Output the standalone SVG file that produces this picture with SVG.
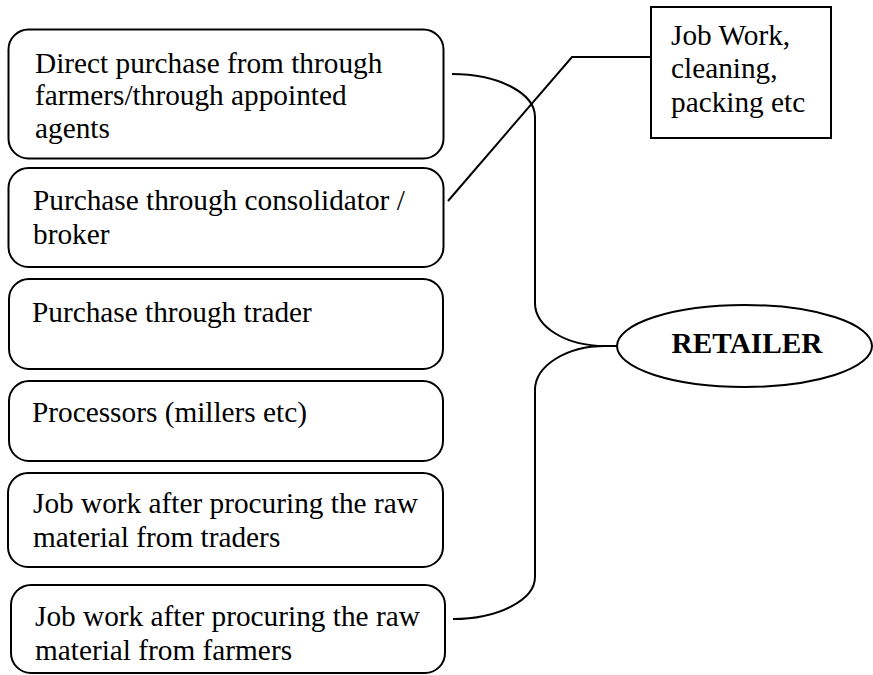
<svg xmlns="http://www.w3.org/2000/svg" width="873" height="675" viewBox="0 0 873 675">
<style>
.box{fill:#fff;stroke:#000;stroke-width:2}
.t{font-family:"Liberation Serif","Times New Roman",serif;font-size:29.3px;fill:#000}
.b{font-weight:bold}
.c{fill:none;stroke:#000;stroke-width:2}
</style>
<rect width="873" height="675" fill="#fff"/>
<g id="connectors">
<path class="c" d="M452,74 C498,74 535,93 535,117 L535,303 C535,327 566,346 605,346 L617,346"/>
<path class="c" d="M617,346 L605,346 C566,346 535,366 535,390 L535,577 C535,600 498,619 453,619"/>
<path class="c" d="M651,57 L572,57 L448,201"/>
</g>
<g id="n1"><rect class="box" x="8.5" y="29.5" width="435" height="129" rx="20"/>
<text class="t" x="35" y="72.5">Direct purchase from through</text>
<text class="t" x="35" y="105">farmers/through appointed</text>
<text class="t" x="35" y="137.5">agents</text></g>
<g id="n2"><rect class="box" x="8.5" y="168" width="435" height="99" rx="20"/>
<text class="t" x="33" y="210">Purchase through consolidator /</text>
<text class="t" x="33" y="244">broker</text></g>
<g id="n3"><rect class="box" x="9" y="279" width="434" height="90" rx="20"/>
<text class="t" x="32" y="322">Purchase through trader</text></g>
<g id="n4"><rect class="box" x="9" y="381" width="434" height="80" rx="20"/>
<text class="t" x="32" y="422">Processors (millers etc)</text></g>
<g id="n5"><rect class="box" x="8" y="473" width="435" height="94" rx="20"/>
<text class="t" x="33" y="513">Job work after procuring the raw</text>
<text class="t" x="33" y="547">material from traders</text></g>
<g id="n6"><rect class="box" x="11" y="585" width="434" height="88" rx="20"/>
<text class="t" x="35" y="626">Job work after procuring the raw</text>
<text class="t" x="35" y="660">material from farmers</text></g>
<g id="jobwork"><rect class="box" x="651" y="7" width="180" height="131"/>
<text class="t" x="671" y="44.5">Job Work,</text>
<text class="t" x="671" y="78">cleaning,</text>
<text class="t" x="671" y="111.5">packing etc</text></g>
<g id="retailer"><ellipse class="box" cx="744.5" cy="346" rx="127.5" ry="41"/>
<text class="t b" x="747" y="353" text-anchor="middle">RETAILER</text></g>
</svg>
